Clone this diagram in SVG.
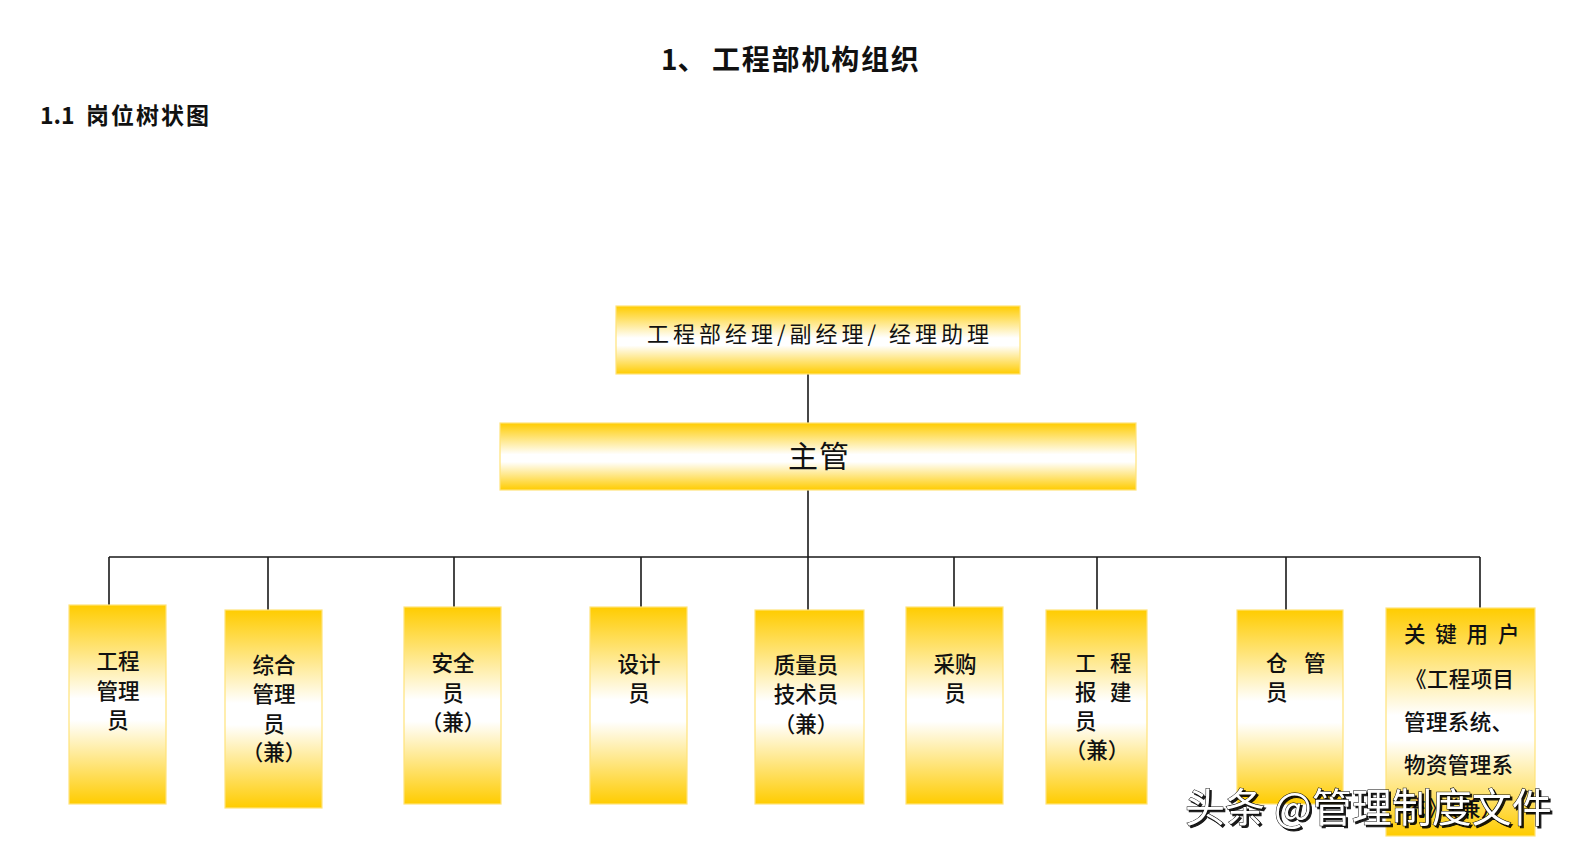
<svg xmlns="http://www.w3.org/2000/svg" width="1579" height="855" viewBox="0 0 1579 855">
<defs>
<linearGradient id="gold" x1="0" y1="0" x2="0" y2="1">
<stop offset="0" stop-color="#FFCC00"/>
<stop offset="0.47" stop-color="#FFFFFF"/>
<stop offset="0.58" stop-color="#FFFFFF"/>
<stop offset="1" stop-color="#FFCC00"/>
</linearGradient>
<filter id="shadow" x="-5%" y="-20%" width="110%" height="150%">
<feDropShadow dx="2" dy="2" stdDeviation="0.6" flood-color="#000" flood-opacity="0.9"/>
</filter>
<style>
.box{fill:url(#gold);stroke:#FFE37A;stroke-width:1.2}
.t{font-family:"Noto Sans CJK SC","Noto Sans",sans-serif;fill:#111;dominant-baseline:central}
.b{font-size:21.5px;font-weight:500;text-anchor:middle}
.bl{font-size:21.5px;font-weight:500}
.h{font-weight:700;fill:#111}
.ln{stroke:#1a1a1a;stroke-width:1.6;fill:none}
</style>
</defs>
<rect width="1579" height="855" fill="#fff"/>
<text class="t h" x="661" y="58" font-size="28">1、 <tspan x="712" letter-spacing="1.8">工程部机构组织</tspan></text>
<text class="t h" x="40" y="114" font-size="23">1.1 <tspan x="86" letter-spacing="2">岗位树状图</tspan></text>

<g id="connectors">
<path class="ln" d="M808 374 V423 M808 490 V557 M109 557 H1480"/>
<path class="ln" d="M109 557 V605 M268 557 V610 M454 557 V607 M641 557 V607 M808 557 V610 M954 557 V607 M1097 557 V610 M1286 557 V610 M1480 557 V608"/>
</g>

<g id="n-manager">
<rect class="box" x="616" y="306" width="404" height="68"/>
<text class="t" x="647" y="332" font-size="22" textLength="342" lengthAdjust="spacing">工程部经理/副经理/ 经理助理</text>
</g>
<g id="n-supervisor">
<rect class="box" x="500" y="423" width="636" height="67"/>
<text class="t" x="819" y="454" font-size="30" text-anchor="middle" letter-spacing="1">主管</text>
</g>

<g id="n1">
<rect class="box" x="69" y="605" width="97" height="199"/>
<text class="t b" x="118" y="659">工程</text>
<text class="t b" x="118" y="689">管理</text>
<text class="t b" x="118" y="718">员</text>
</g>
<g id="n2">
<rect class="box" x="225" y="610" width="97" height="198"/>
<text class="t b" x="274" y="663">综合</text>
<text class="t b" x="274" y="692">管理</text>
<text class="t b" x="274" y="722">员</text>
<text class="t b" x="274" y="750">（兼）</text>
</g>
<g id="n3">
<rect class="box" x="404" y="607" width="97" height="197"/>
<text class="t b" x="453" y="661">安全</text>
<text class="t b" x="453" y="691">员</text>
<text class="t b" x="453" y="720">（兼）</text>
</g>
<g id="n4">
<rect class="box" x="590" y="607" width="97" height="197"/>
<text class="t b" x="639" y="662">设计</text>
<text class="t b" x="639" y="691">员</text>
</g>
<g id="n5">
<rect class="box" x="755" y="610" width="109" height="194"/>
<text class="t b" x="806" y="663">质量员</text>
<text class="t b" x="806" y="692">技术员</text>
<text class="t b" x="806" y="722">（兼）</text>
</g>
<g id="n6">
<rect class="box" x="906" y="607" width="97" height="197"/>
<text class="t b" x="955" y="662">采购</text>
<text class="t b" x="955" y="691">员</text>
</g>
<g id="n7">
<rect class="box" x="1046" y="610" width="101" height="194"/>
<text class="t bl" y="661"><tspan x="1075">工</tspan> <tspan x="1110">程</tspan></text>
<text class="t bl" y="690"><tspan x="1075">报</tspan> <tspan x="1110">建</tspan></text>
<text class="t bl" x="1075" y="719">员</text>
<text class="t b" x="1097" y="748">（兼）</text>
</g>
<g id="n8">
<rect class="box" x="1237" y="610" width="106" height="194"/>
<text class="t bl" y="661"><tspan x="1266">仓</tspan> <tspan x="1304">管</tspan></text>
<text class="t bl" x="1266" y="690">员</text>
</g>
<g id="n9">
<rect class="box" x="1386" y="608" width="149" height="228"/>
<text class="t bl" x="1404" y="632" font-size="21" letter-spacing="9.8">关键用户</text>
<text class="t bl" x="1405" y="677" font-size="22" letter-spacing="0.4">《工程项目</text>
<text class="t bl" x="1404" y="720" font-size="22" letter-spacing="0.4">管理系统、</text>
<text class="t bl" x="1404" y="763" font-size="22" letter-spacing="0.4">物资管理系</text>
<text class="t bl" x="1404" y="806" font-size="22" letter-spacing="0.4">统》（兼）</text>
</g>

<text x="1185" y="822" font-family="'Noto Sans CJK SC','Noto Sans',sans-serif" font-size="40" fill="#fff" stroke="#000" stroke-width="1" paint-order="stroke" filter="url(#shadow)">头条 @管理制度文件</text>
</svg>
